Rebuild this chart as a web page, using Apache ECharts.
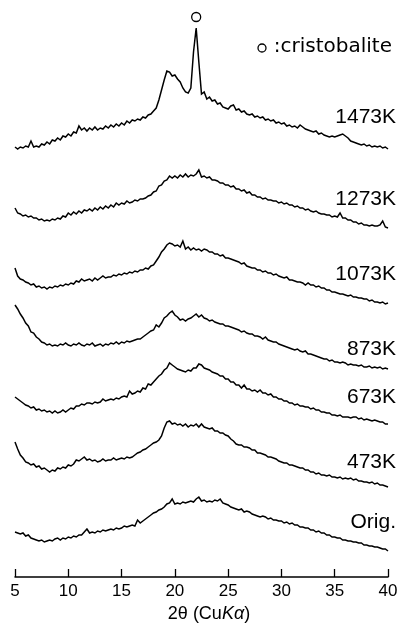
<!DOCTYPE html>
<html>
<head>
<meta charset="utf-8">
<script src="https://cdn.jsdelivr.net/npm/echarts@6/dist/echarts.min.js"></script>
<style>
  html, body { margin: 0; padding: 0; background: #ffffff; }
  #chart { width: 409px; height: 626px; }
</style>
</head>
<body>
<div id="chart"></div>
<script>
// X-ray diffraction patterns of the glass, as prepared and after heat treatment.
// Each pattern is sampled every 0.25 deg of 2-theta from 5 to 40 deg.
const TWO_THETA_START = 5;
const TWO_THETA_STEP = 0.25;
const xTicks = [5, 10, 15, 20, 25, 30, 35, 40];

// Sample names, top to bottom, and the vertical shift each pattern is stacked with.
const samples = ['1473K', '1273K', '1073K', '873K', '673K', '473K', 'Orig.'];
const stackOffsets = [425, 345, 270, 205, 150, 85, 20];

// Intensities (arbitrary units), one row per 2 deg.
const int1473 = [
  5, 3, 5, 4, 6, 5, 11, 5,
  6, 5, 8, 7, 10, 8, 12, 11,
  14, 12, 16, 15, 18, 16, 20, 19,
  26, 22, 24, 21, 24, 22, 25, 22,
  24, 23, 26, 24, 27, 25, 28, 26,
  29, 27, 31, 29, 32, 31, 33, 32,
  35, 34, 37, 38, 41, 44, 52, 62,
  72, 81, 80, 76, 77, 73, 70, 64,
  60, 59, 64, 100, 124, 90, 58, 60,
  53, 55, 51, 52, 48, 49, 45, 44,
  43, 46, 47, 42, 43, 40, 41, 38,
  37, 38, 35, 36, 34, 35, 32, 33,
  31, 32, 29, 30, 28, 29, 26, 27,
  25, 26, 24, 27, 25, 23, 22, 21,
  20, 21, 18, 19, 17, 16, 15, 16,
  15, 16, 17, 18, 16, 14, 11, 10,
  9, 8, 7, 8, 6, 7, 5, 6,
  5, 6, 4, 5, 3
];
const int1273 = [
  24, 19, 18, 16, 17, 15, 16, 14,
  14, 12, 13, 11, 12, 11, 13, 12,
  14, 13, 16, 15, 19, 17, 20, 18,
  21, 19, 22, 21, 23, 21, 24, 22,
  25, 23, 26, 24, 27, 25, 29, 27,
  29, 28, 31, 29, 30, 32, 31, 33,
  33, 34, 36, 37, 40, 41, 46, 47,
  51, 52, 56, 54, 56, 54, 57, 55,
  58, 55, 57, 56, 58, 62, 55, 56,
  54, 55, 52, 52, 51, 49, 49, 47,
  47, 45, 46, 43, 43, 41, 42, 39,
  40, 37, 37, 35, 35, 33, 34, 32,
  32, 31, 31, 29, 30, 28, 29, 27,
  27, 25, 26, 24, 24, 22, 23, 21,
  20, 21, 19, 18, 18, 17, 17, 15,
  16, 15, 19, 14, 14, 12, 12, 10,
  10, 8, 9, 7, 7, 6, 7, 6,
  6, 7, 11, 5, 4
];
const int1073 = [
  39, 31, 28, 27, 25, 24, 22, 23,
  20, 21, 19, 20, 18, 20, 19, 21,
  20, 22, 21, 23, 22, 24, 23, 26,
  25, 28, 26, 27, 28, 26, 29, 27,
  29, 31, 29, 30, 30, 32, 31, 33,
  32, 34, 33, 35, 34, 36, 35, 37,
  37, 39, 38, 41, 42, 46, 50, 55,
  58, 62, 64, 63, 61, 62, 60, 66,
  58, 60, 57, 59, 57, 58, 56, 58,
  57, 55, 55, 53, 53, 51, 52, 49,
  49, 48, 47, 46, 45, 43, 44, 41,
  40, 39, 39, 37, 37, 35, 36, 34,
  34, 32, 33, 31, 30, 29, 30, 27,
  27, 26, 25, 25, 24, 22, 24, 22,
  22, 20, 21, 19, 19, 17, 17, 15,
  15, 14, 13, 13, 12, 11, 12, 10,
  10, 9, 9, 8, 8, 6, 7, 5,
  5, 4, 5, 3, 4
];
const int873 = [
  67, 63, 58, 54, 49, 46, 40, 39,
  35, 33, 30, 29, 27, 28, 26, 27,
  26, 28, 27, 29, 27, 26, 28, 27,
  29, 27, 26, 28, 27, 29, 26, 27,
  28, 26, 28, 27, 29, 28, 30, 28,
  30, 29, 31, 30, 31, 32, 33, 33,
  35, 37, 39, 41, 42, 47, 45, 49,
  54, 56, 59, 61, 57, 55, 52, 53,
  51, 53, 54, 56, 58, 55, 57, 54,
  53, 51, 52, 50, 49, 48, 48, 46,
  46, 45, 44, 43, 42, 40, 41, 39,
  38, 38, 36, 36, 35, 33, 35, 32,
  31, 30, 30, 28, 27, 26, 25, 24,
  23, 22, 23, 21, 20, 21, 18, 18,
  17, 16, 15, 14, 13, 13, 11, 12,
  10, 10, 9, 10, 9, 7, 8, 7,
  7, 6, 7, 5, 5, 6, 4, 5,
  4, 5, 3, 4, 3
];
const int673 = [
  30, 28, 26, 24, 22, 21, 19, 20,
  17, 18, 16, 17, 15, 16, 14, 16,
  14, 15, 17, 15, 17, 19, 18, 21,
  21, 23, 22, 24, 24, 23, 25, 24,
  25, 28, 26, 27, 28, 27, 29, 28,
  30, 31, 30, 36, 33, 34, 36, 35,
  39, 38, 43, 42, 45, 48, 51, 53,
  57, 59, 64, 62, 60, 58, 57, 56,
  55, 57, 56, 59, 59, 63, 62, 59,
  58, 57, 55, 54, 53, 51, 51, 48,
  48, 45, 45, 42, 42, 39, 42, 38,
  38, 36, 37, 35, 37, 34, 34, 32,
  33, 30, 30, 28, 28, 26, 26, 24,
  24, 22, 23, 21, 21, 20, 20, 18,
  19, 17, 17, 15, 15, 14, 14, 12,
  12, 11, 12, 10, 10, 10, 9, 10,
  10, 8, 9, 7, 8, 7, 6, 7,
  6, 5, 5, 3, 3
];
const int473 = [
  50, 43, 37, 34, 30, 29, 27, 28,
  25, 26, 23, 24, 22, 20, 22, 21,
  24, 23, 25, 24, 27, 26, 28, 32,
  31, 33, 35, 32, 33, 31, 32, 30,
  31, 33, 31, 32, 32, 34, 32, 33,
  34, 33, 35, 34, 35, 37, 39, 40,
  42, 43, 45, 47, 49, 50, 52, 56,
  64, 70, 71, 68, 69, 67, 68, 66,
  68, 65, 67, 66, 68, 65, 68, 65,
  64, 63, 64, 61, 61, 59, 59, 57,
  56, 53, 51, 48, 47, 47, 45, 45,
  44, 42, 42, 39, 39, 38, 37, 35,
  35, 34, 33, 31, 30, 29, 29, 27,
  27, 26, 25, 24, 24, 22, 22, 20,
  20, 18, 19, 17, 17, 16, 17, 15,
  15, 14, 15, 13, 14, 13, 14, 12,
  13, 11, 11, 10, 10, 9, 10, 8,
  9, 7, 7, 6, 5
];
const intOrig = [
  25, 24, 23, 24, 21, 22, 19, 18,
  17, 16, 17, 15, 16, 17, 16, 18,
  19, 17, 19, 18, 20, 19, 21, 20,
  22, 22, 25, 28, 24, 25, 24, 26,
  25, 27, 26, 27, 28, 27, 29, 28,
  29, 31, 30, 31, 32, 31, 37, 34,
  36, 38, 40, 42, 44, 45, 47, 48,
  50, 53, 54, 58, 53, 54, 53, 55,
  54, 55, 56, 55, 58, 60, 56, 57,
  55, 56, 55, 57, 56, 58, 54, 53,
  52, 50, 49, 48, 47, 48, 45, 46,
  45, 43, 42, 41, 40, 41, 40, 38,
  39, 37, 37, 36, 36, 34, 35, 33,
  34, 32, 32, 30, 30, 29, 29, 27,
  27, 25, 26, 24, 24, 22, 22, 20,
  20, 19, 19, 17, 17, 16, 16, 15,
  15, 14, 14, 12, 12, 11, 11, 10,
  10, 9, 8, 8, 6
];
const patterns = [int1473, int1273, int1073, int873, int673, int473, intOrig];

// Cristobalite reflection marked on the 1473K pattern.
const cristobalitePeak = 22.0;

// ---- layout ----
const AXIS_Y = 577;              // pixel row of the 2-theta axis
const labelCenters = [117, 199, 274, 349, 397, 462, 522];
const LABEL_RIGHT = 396;

const chart = echarts.init(document.getElementById('chart'), null, { renderer: 'canvas' });

function toPoints(values, offset) {
  return values.map((v, i) => [TWO_THETA_START + i * TWO_THETA_STEP, offset + v]);
}

const peakIndex = Math.round((cristobalitePeak - TWO_THETA_START) / TWO_THETA_STEP);

const series = patterns.map((vals, k) => {
  const s = {
    name: samples[k],
    type: 'line',
    data: toPoints(vals, stackOffsets[k]),
    showSymbol: false,
    symbol: 'none',
    smooth: false,
    silent: true,
    lineStyle: { color: '#000000', width: 1.5, join: 'miter' },
    animation: false
  };
  if (k === 0) {
    s.markPoint = {
      silent: true,
      animation: false,
      data: [{
        coord: [cristobalitePeak, stackOffsets[0] + vals[peakIndex]],
        symbol: 'circle',
        symbolSize: 9,
        symbolOffset: [0, -11],
        itemStyle: { color: 'rgba(0,0,0,0)', borderColor: '#000000', borderWidth: 1.3 },
        label: { show: false }
      }]
    };
  }
  return s;
});

const labelFont = '"Liberation Sans", Arial, sans-serif';

const graphics = samples.map((name, k) => ({
  type: 'text',
  silent: true,
  style: {
    text: name,
    x: LABEL_RIGHT,
    y: labelCenters[k],
    align: 'right',
    verticalAlign: 'middle',
    font: '21px ' + labelFont,
    fill: '#000000'
  }
}));

// legend for the peak marker
graphics.push({
  type: 'circle',
  silent: true,
  shape: { cx: 262, cy: 48, r: 4 },
  style: { fill: 'none', stroke: '#000000', lineWidth: 1.3 }
});
graphics.push({
  type: 'text',
  silent: true,
  style: {
    text: ':cristobalite',
    x: 392,
    y: 47,
    align: 'right',
    verticalAlign: 'middle',
    font: '20px "DejaVu Sans", sans-serif',
    fill: '#000000'
  }
});
// axis title with italic K-alpha
graphics.push({
  type: 'text',
  silent: true,
  style: {
    text: '2θ (Cu{i|Kα})',
    x: 209,
    y: 614,
    align: 'center',
    verticalAlign: 'middle',
    font: '18px ' + labelFont,
    fill: '#000000',
    rich: {
      i: { fontStyle: 'italic', fontSize: 18, fontFamily: labelFont, fill: '#000000' }
    }
  }
});

chart.setOption({
  animation: false,
  backgroundColor: '#ffffff',
  grid: { left: 15, right: 21, top: 0, bottom: 626 - AXIS_Y, containLabel: false },
  xAxis: {
    type: 'value',
    min: xTicks[0],
    max: xTicks[xTicks.length - 1],
    interval: 5,
    axisLine: { show: true, lineStyle: { color: '#000000', width: 1.5 } },
    axisTick: { show: true, inside: true, length: 8, lineStyle: { color: '#000000', width: 1.3 } },
    axisLabel: {
      show: true,
      margin: 6,
      color: '#000000',
      fontSize: 17,
      fontFamily: labelFont,
      showMinLabel: true,
      showMaxLabel: true
    },
    splitLine: { show: false }
  },
  yAxis: {
    type: 'value',
    min: 0,
    max: AXIS_Y,
    show: false,
    splitLine: { show: false }
  },
  series: series,
  graphic: graphics
});
</script>
</body>
</html>
